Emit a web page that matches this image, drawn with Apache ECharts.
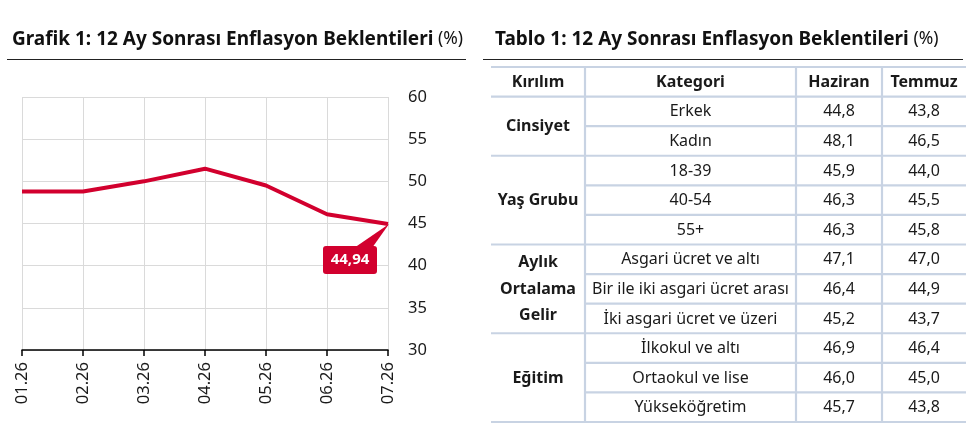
<!DOCTYPE html>
<html><head><meta charset="utf-8">
<script src="https://cdn.jsdelivr.net/npm/echarts@6/dist/echarts.min.js"></script>
<style>html,body{margin:0;padding:0;background:#fff}#c{width:970px;height:445px}</style>
</head><body><div id="c"></div>
<script>
// ---- data ----
const months = ['01.26','02.26','03.26','04.26','05.26','06.26','07.26'];
const expectations = [48.8, 48.8, 50.0, 51.5, 49.5, 46.1, 44.94];
const yTicks = [30, 35, 40, 45, 50, 55, 60];

const tableHeaders = ['Kırılım', 'Kategori', 'Haziran', 'Temmuz'];
const groups = ['Cinsiyet', 'Yaş Grubu', 'Aylık\nOrtalama\nGelir', 'Eğitim'];
const groupSizes = [2, 3, 3, 3];
const categories = ['Erkek', 'Kadın', '18-39', '40-54', '55+', 'Asgari ücret ve altı',
  'Bir ile iki asgari ücret arası', 'İki asgari ücret ve üzeri', 'İlkokul ve altı',
  'Ortaokul ve lise', 'Yükseköğretim'];
const haziran = [44.8, 48.1, 45.9, 46.3, 46.3, 47.1, 46.4, 45.2, 46.9, 46.0, 45.7];
const temmuz = [43.8, 46.5, 44.0, 45.5, 45.8, 47.0, 44.9, 43.7, 46.4, 45.0, 43.8];

// ---- layout / style ----
const FONT = '"Noto Sans", "Open Sans", sans-serif';
const RED = '#d2002e';
const BORDER = '#c8d3e3';
const colWidths = [94, 211, 86, 84]; // table column widths
const colEdges = colWidths.reduce((a, w) => { a.push(a[a.length - 1] + w); return a; }, [0]);
const fmt = v => v.toFixed(1).replace('.', ',');

// build table cells: [col, rowStart, rowSpan, text, bold]
const cells = [];
tableHeaders.forEach((h, i) => cells.push([i, 0, 1, h, 1]));
let r = 1;
groups.forEach((g, gi) => {
  cells.push([0, r, groupSizes[gi], g, 1]);
  for (let k = 0; k < groupSizes[gi]; k++) {
    const idx = r - 1 + k;
    cells.push([1, r + k, 1, categories[idx], 0]);
    cells.push([2, r + k, 1, fmt(haziran[idx]), 0]);
    cells.push([3, r + k, 1, fmt(temmuz[idx]), 0]);
  }
  r += groupSizes[gi];
});
const totalRows = r;

const titleRich = {b: {fontFamily: FONT, fontWeight: 'bold', fontSize: 19, color: '#111'},
                   n: {fontFamily: FONT, fontWeight: 'normal', fontSize: 17.5, color: '#111'}};

const chart = echarts.init(document.getElementById('c'), null, {renderer: 'canvas'});
chart.setOption({
  animation: false,
  textStyle: {fontFamily: FONT},
  title: [
    {left: 7, top: 25, text: '{b|Grafik 1: 12 Ay Sonrası Enflasyon Beklentileri} {n|(%)}',
     textStyle: {fontWeight: 'normal', rich: titleRich}},
    {left: 490, top: 25, text: '{b|Tablo 1: 12 Ay Sonrası Enflasyon Beklentileri} {n|(%)}',
     textStyle: {fontWeight: 'normal', rich: titleRich}}
  ],
  graphic: [
    {type: 'line', shape: {x1: 7, y1: 59.5, x2: 466, y2: 59.5}, style: {stroke: '#222', lineWidth: 1.2}},
    {type: 'line', shape: {x1: 483, y1: 59.5, x2: 963, y2: 59.5}, style: {stroke: '#222', lineWidth: 1.2}}
  ],
  grid: [
    {left: 22, right: 582, top: 97, bottom: 95},
    {left: 491, right: 4, top: 67, bottom: 23}
  ],
  xAxis: [
    {gridIndex: 0, type: 'category', data: months, boundaryGap: false,
     axisLine: {lineStyle: {color: '#000', width: 1.5}},
     axisTick: {show: true, length: 6, lineStyle: {color: '#000', width: 1.5}},
     axisLabel: {rotate: 90, margin: 12, fontSize: 16.5, color: '#1a1a1a', fontFamily: FONT},
     splitLine: {show: true, lineStyle: {color: '#dadada', width: 1}}},
    {gridIndex: 1, type: 'value', min: 0, max: colEdges[colEdges.length - 1], show: false}
  ],
  yAxis: [
    {gridIndex: 0, type: 'value', position: 'right', min: yTicks[0], max: yTicks[yTicks.length - 1], interval: 5,
     axisLine: {show: false}, axisTick: {show: false},
     axisLabel: {margin: 20, fontSize: 16.5, color: '#1a1a1a', fontFamily: FONT},
     splitLine: {lineStyle: {color: '#dadada', width: 1}}},
    {gridIndex: 1, type: 'value', min: 0, max: totalRows, inverse: true, show: false}
  ],
  series: [
    {type: 'line', xAxisIndex: 0, yAxisIndex: 0, data: expectations, showSymbol: false, symbol: 'none',
     lineStyle: {color: RED, width: 4}, z: 3},
    {type: 'custom', xAxisIndex: 0, yAxisIndex: 0, z: 4,
     data: [[months.length - 1, expectations[expectations.length - 1]]],
     renderItem: function (params, api) {
       const p = api.coord([api.value(0), api.value(1)]);
       const txt = api.value(1).toFixed(2).replace('.', ',');
       return {type: 'group', children: [
         {type: 'polygon', shape: {points: [[p[0] + 1, p[1]], [p[0] - 34, p[1] + 24], [p[0] - 16, p[1] + 24]]},
          style: {fill: RED}},
         {type: 'rect', shape: {x: p[0] - 65, y: p[1] + 22, width: 54, height: 28, r: 3}, style: {fill: RED}},
         {type: 'text', x: p[0] - 38, y: p[1] + 36,
          style: {text: txt, fill: '#fff', font: 'bold 15px ' + FONT, align: 'center', verticalAlign: 'middle'}}
       ]};
     }},
    {type: 'custom', xAxisIndex: 1, yAxisIndex: 1, z: 2, data: cells,
     renderItem: function (params, api) {
       const col = api.value(0), row = api.value(1), span = api.value(2);
       const tl = api.coord([colEdges[col], row]);
       const br = api.coord([colEdges[col + 1], row + span]);
       const text = cells[params.dataIndex][3];
       const bold = api.value(4) === 1;
       const children = [];
       if (row === 0) children.push({type: 'line', shape: {x1: tl[0], y1: tl[1], x2: br[0], y2: tl[1]},
         style: {stroke: BORDER, lineWidth: 2}});
       children.push({type: 'line', shape: {x1: tl[0], y1: br[1], x2: br[0], y2: br[1]},
         style: {stroke: BORDER, lineWidth: 2.2}});
       if (col < colWidths.length - 1) children.push({type: 'line', shape: {x1: br[0], y1: tl[1], x2: br[0], y2: br[1]},
         style: {stroke: BORDER, lineWidth: 2.2}});
       children.push({type: 'text', x: (tl[0] + br[0]) / 2, y: (tl[1] + br[1]) / 2 + 0.5,
         style: {text: text, fill: '#1a1a1a', font: (bold ? 'bold ' : '') + '16px ' + FONT,
                 align: 'center', verticalAlign: 'middle', lineHeight: 26.5}});
       return {type: 'group', children: children};
     }}
  ]
});
</script></body></html>
